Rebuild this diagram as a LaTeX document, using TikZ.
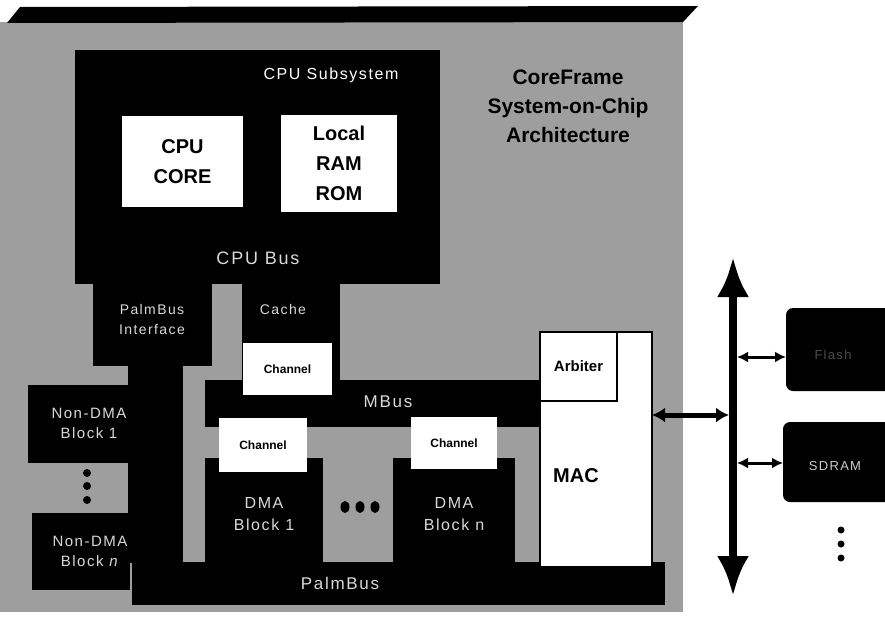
\documentclass[tikz,border=0pt]{standalone}
\usepackage{fontspec}
\setmainfont{Liberation Sans}
\newfontfamily\widesans[LetterSpace=10]{Liberation Sans}
\usetikzlibrary{arrows.meta,shapes.geometric}

\tikzset{
  blk/.style={fill=black, draw=none, inner sep=0pt, outer sep=0pt, anchor=north west},
  wbox/.style={fill=white, draw=none, inner sep=0pt, outer sep=0pt, anchor=north west},
  lbl/.style={text=white!85!black, font=\widesans\fontsize{15}{20}\selectfont, align=center, inner sep=0pt},
  bigbold/.style={text=black, font=\bfseries\fontsize{20}{30}\selectfont, align=center},
  chlabel/.style={font=\bfseries\fontsize{12}{14}\selectfont},
  dotmark/.style={fill=black, circle, inner sep=0pt, minimum size=8pt},
  hdot/.style={fill=black, ellipse, inner sep=0pt, minimum width=9pt, minimum height=12pt},
}

\begin{document}
\begin{tikzpicture}[x=1pt, y=-1pt]
\useasboundingbox (0,0) rectangle (885,618);

% chip slab: background and top edge
\fill[black!38] (0,22) rectangle (683,612);
\fill[black] (7,23) -- (20,7) -- (698,6) -- (683,22) -- cycle;

% CPU subsystem
\node[blk, minimum width=365pt, minimum height=234pt] (cpusub) at (75,50) {};
\node[lbl, font=\widesans\fontsize{16}{20}\selectfont, text=white] (cpusubt) at (331,75) {CPU Subsystem};
\node[wbox, minimum width=121pt, minimum height=91pt, bigbold] (cpucore) at (122,116) {CPU\\CORE};
\node[wbox, minimum width=116pt, minimum height=97pt, bigbold] (localmem) at (281,115) {Local\\RAM\\ROM};
\node[lbl, font=\widesans\fontsize{18}{20}\selectfont] (cpubus) at (258,258) {CPU Bus};

% PalmBus interface and cache
\node[blk, minimum width=119pt, minimum height=83pt] (palmif) at (93,283) {};
\node[lbl, font=\widesans\fontsize{14}{20}\selectfont] (palmift) at (152,319) {PalmBus\\Interface};
\node[blk, minimum width=98pt, minimum height=99pt] (cache) at (242,283) {};
\node[lbl, font=\widesans\fontsize{14}{20}\selectfont] (cachet) at (283,309) {Cache};

% PalmBus column, bar and non-DMA blocks
\node[blk, minimum width=55pt, minimum height=198pt] (palmcol) at (128,365) {};
\node[blk, minimum width=102pt, minimum height=78pt] (nondma1) at (28,385) {};
\node[lbl] (nondma1t) at (89,423) {Non-DMA\\Block 1};
\node[blk, minimum width=98pt, minimum height=77pt] (nondman) at (32,513) {};
\node[lbl] (nondmant) at (90,551) {Non-DMA\\Block \textit{n}};
\node[dotmark] (nd1) at (87,473) {};
\node[dotmark] (nd2) at (87,486) {};
\node[dotmark] (nd3) at (87,500) {};
\node[blk, minimum width=533pt, minimum height=43pt] (palmbus) at (132,562) {};
\node[lbl, font=\widesans\fontsize{17}{20}\selectfont] (palmbust) at (340,583) {PalmBus};

% MBus and DMA blocks
\node[blk, minimum width=340pt, minimum height=47pt] (mbus) at (205,380) {};
\node[lbl, font=\widesans\fontsize{17}{20}\selectfont] (mbust) at (388,402) {MBus};
\node[wbox, minimum width=89pt, minimum height=52pt, chlabel] (chcache) at (243,343) {Channel};
\node[blk, minimum width=118pt, minimum height=105pt] (dma1) at (205,458) {};
\node[lbl, font=\widesans\fontsize{16}{22}\selectfont] (dma1t) at (264,514) {DMA\\Block 1};
\node[wbox, minimum width=88pt, minimum height=54pt, chlabel] (ch1) at (219,418) {Channel};
\node[blk, minimum width=122pt, minimum height=105pt] (dman) at (393,458) {};
\node[lbl, font=\widesans\fontsize{16}{22}\selectfont] (dmant) at (454,514) {DMA\\Block n};
\node[wbox, minimum width=86pt, minimum height=52pt, chlabel] (chn) at (411,417) {Channel};
\node[hdot] (dd1) at (345,507) {};
\node[hdot] (dd2) at (360,507) {};
\node[hdot] (dd3) at (375,507) {};

% MAC with arbiter
\node[wbox, draw=black, line width=2.5pt, minimum width=112pt, minimum height=235pt] (mac) at (540,332) {};
\node[wbox, draw=black, line width=2.5pt, minimum width=77pt, minimum height=69pt, font=\bfseries\fontsize{15}{18}\selectfont] (arbiter) at (540,332) {Arbiter};
\node[font=\bfseries\fontsize{20}{24}\selectfont] (mact) at (576,476) {MAC};

% title
\node[font=\bfseries\fontsize{21}{29}\selectfont, align=center, text=black] (title) at (568,106) {CoreFrame\\System-on-Chip\\Architecture};

% external system bus
\coordinate (bustop) at (733,257);
\coordinate (busbot) at (733,596);
\draw[line width=8pt, {Latex[length=40pt 0, width=32pt 0]}-{Latex[length=40pt 0, width=32pt 0]}] (bustop) -- (busbot);

\coordinate (macbus) at (729,415);
\draw[line width=5pt, {Latex[length=13pt 0, width=15pt 0]}-{Latex[length=13pt 0, width=15pt 0]}] (mac.east |- macbus) -- (macbus);

% external memories
\node[blk, rounded corners=7pt, minimum width=110pt, minimum height=83pt] (flash) at (786,308) {};
\node[text=black!70, font=\widesans\fontsize{13}{16}\selectfont] (flasht) at (833,355) {Flash};
\node[blk, rounded corners=7pt, minimum width=110pt, minimum height=80pt] (sdram) at (783,422) {};
\node[text=white!80!black, font=\widesans\fontsize{13}{16}\selectfont] (sdramt) at (835,466) {SDRAM};

\coordinate (flj) at (737,357);
\coordinate (sdj) at (737,463);
\draw[line width=3pt, {Latex[length=11pt 0, width=11pt 0]}-{Latex[length=11pt 0, width=11pt 0]}] (flj) -- (flash.west |- flj);
\draw[line width=3pt, {Latex[length=11pt 0, width=11pt 0]}-{Latex[length=11pt 0, width=11pt 0]}] (sdj) -- (sdram.west |- sdj);

\node[dotmark, minimum size=7pt] (xd1) at (841,530) {};
\node[dotmark, minimum size=7pt] (xd2) at (841,544) {};
\node[dotmark, minimum size=7pt] (xd3) at (841,558) {};
\end{tikzpicture}
\end{document}
